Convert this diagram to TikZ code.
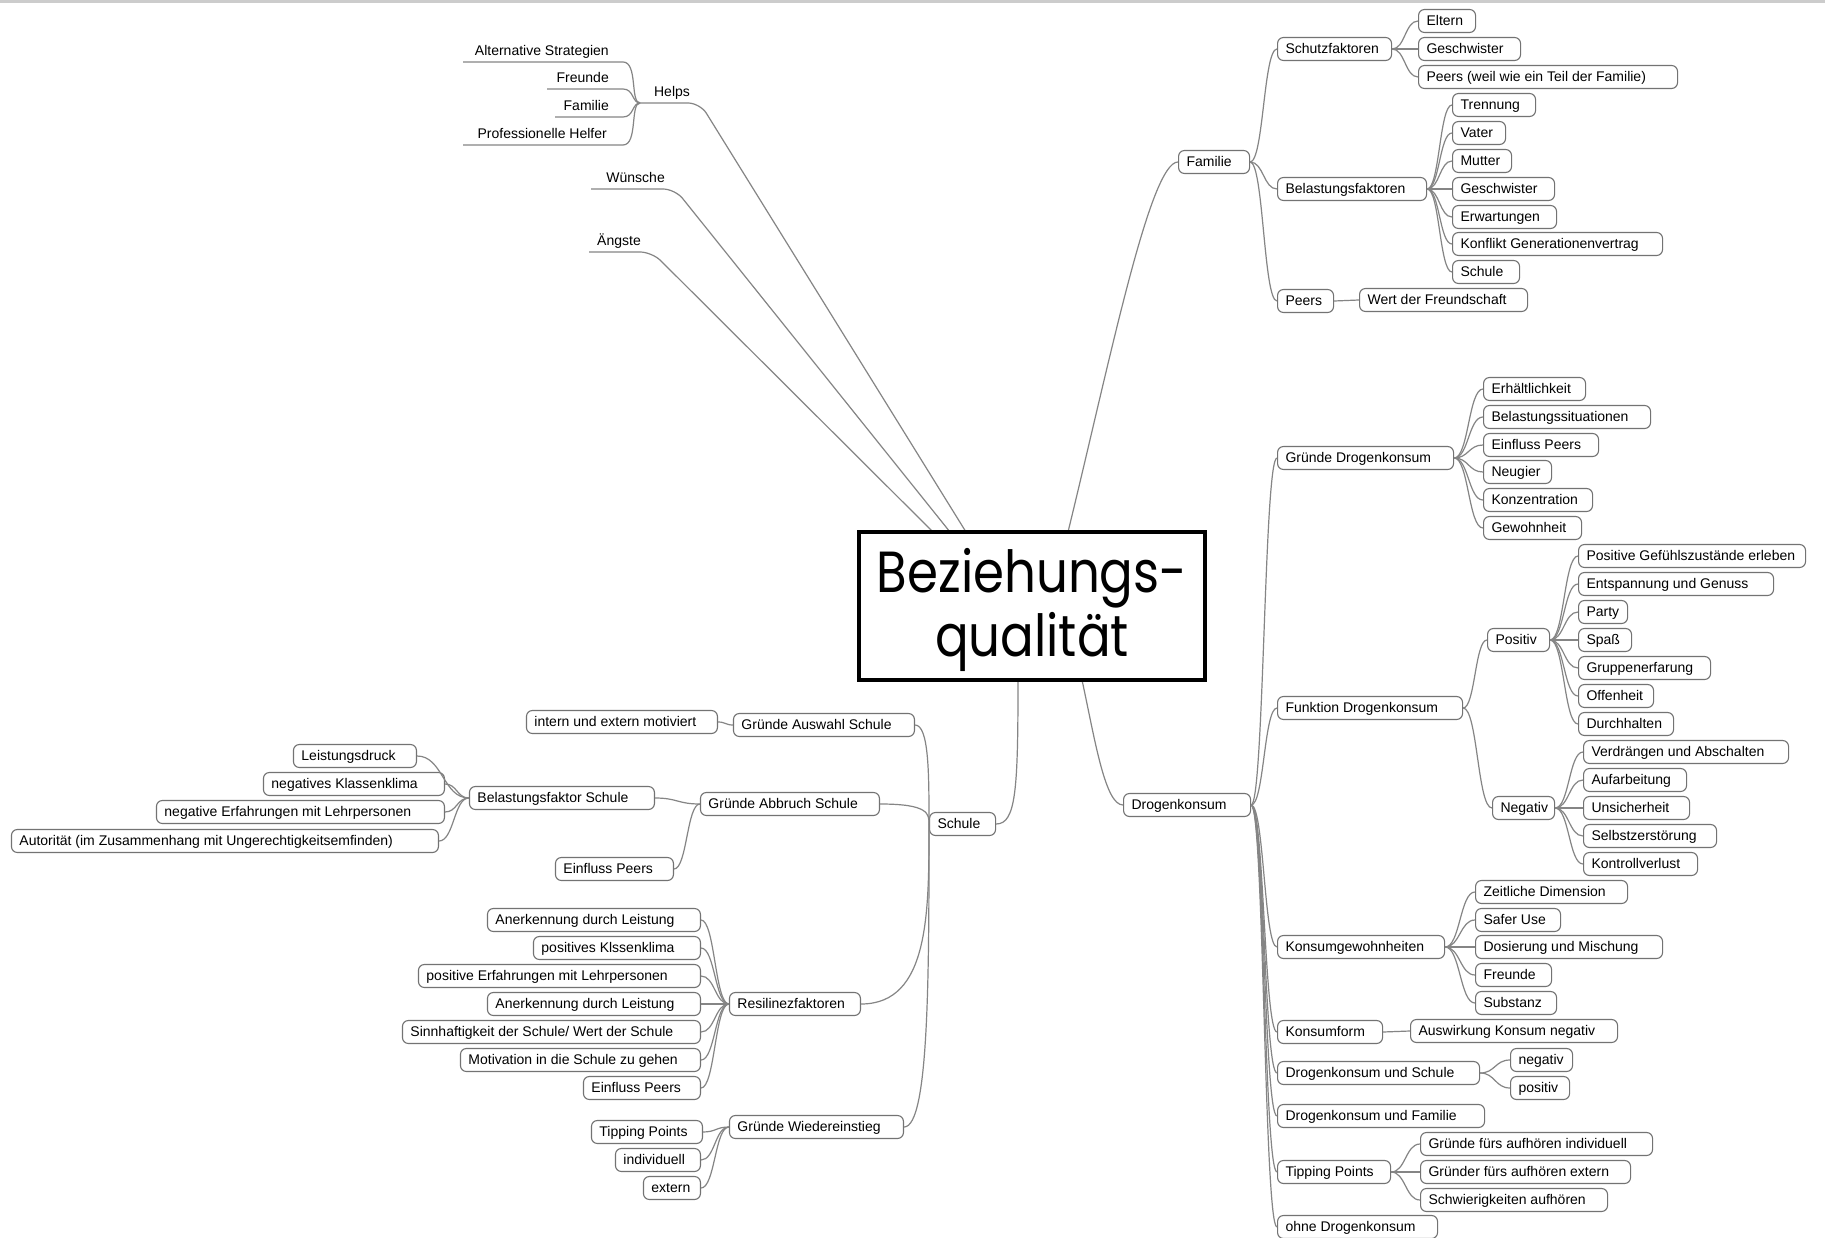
\documentclass[tikz,border=0pt]{standalone}
\usepackage{graphicx}
\usepackage{fontspec}
\setmainfont{Liberation Sans}
\newfontfamily\comicfont{Poppins}
\usetikzlibrary{calc}
\newcommand\fsz{\fontsize{14}{16}\selectfont}
\tikzset{
  nd/.style={draw=black!55, line width=1.1pt, rounded corners=6pt, minimum height=23pt,
             inner ysep=0pt, inner xsep=8pt, text height=10.5pt, text depth=2pt, font=\fsz, fill=white},
  ln/.style={draw=black!48, line width=1.2pt},
  lbl/.style={font=\fsz, inner sep=0pt},
  centre/.style={draw=black, line width=4pt, minimum width=346pt, minimum height=148pt,
             inner sep=0pt, fill=white},
}
% node to the right (anchor west): name, left, right, y, text
\newcommand\NR[5]{\node[nd,anchor=west] (#1) at (#2,#4) {\makebox[\dimexpr #3pt-#2pt-16pt\relax][l]{#5}};}
% node to the left (anchor east)
\newcommand\NL[5]{\node[nd,anchor=east] (#1) at (#3,#4) {\makebox[\dimexpr #3pt-#2pt-16pt\relax][l]{#5}};}
% S-shaped connector
\newcommand\cnS[2]{\draw[ln] let \p1=(#1),\p2=(#2) in (\p1) .. controls ({0.5*\x1+0.5*\x2},\y1) and ({0.5*\x1+0.5*\x2},\y2) .. (\p2);}
% connector arriving vertically at second point
\newcommand\cnV[2]{\draw[ln] let \p1=(#1),\p2=(#2) in (\p1) .. controls (\x2,\y1) and (\x2,{0.5*\y1+0.5*\y2}) .. (\p2);}
\begin{document}
\begin{tikzpicture}[x=1pt,y=-1pt]
\useasboundingbox (0,0) rectangle (1825,1238);
\fill[white] (0,0) rectangle (1825,1238);
\fill[black!20] (0,0) rectangle (1825,3);

% ---------- centre ----------
\coordinate (cAng) at (933,532);
\coordinate (cWun) at (950,532);
\coordinate (cHel) at (966,532);
\coordinate (cFam) at (1068,532);
\coordinate (cSch) at (1018,680);
\coordinate (cDro) at (1082,680);

% ---------- Helps group ----------
\node[lbl, anchor=base] (helps) at (672,97) {Helps};
\coordinate (hL) at (640,103); \coordinate (hR) at (700,103);
\node[lbl, anchor=base east] (alt) at (609,56) {Alternative Strategien};
\node[lbl, anchor=base east] (freu) at (609,83) {Freunde};
\node[lbl, anchor=base east] (famH) at (609,111) {Familie};
\node[lbl, anchor=base east] (prof) at (607,139) {Professionelle Helfer};
\coordinate (altL) at (463,62); \coordinate (altR) at (623,62);
\coordinate (freuL) at (547,89); \coordinate (freuR) at (623,89);
\coordinate (famL) at (555,117); \coordinate (famR) at (623,117);
\coordinate (profL) at (463,145); \coordinate (profR) at (623,145);
\draw[ln] (altL) -- (altR) .. controls (638,62) and (630,103) .. (hL);
\draw[ln] (freuL) -- (freuR) .. controls (634,89) and (632,103) .. (hL);
\draw[ln] (famL) -- (famR) .. controls (634,117) and (632,103) .. (hL);
\draw[ln] (profL) -- (profR) .. controls (638,145) and (630,103) .. (hL);
\draw[ln, rounded corners=12pt] (hL) -- (hR) -- (cHel);

\node[lbl, anchor=base east] (wun) at (665,183) {Wünsche};
\coordinate (wunL) at (591,189); \coordinate (wunR) at (675,189);
\draw[ln, rounded corners=12pt] (wunL) -- (wunR) -- (cWun);
\node[lbl, anchor=base east] (ang) at (641,246) {Ängste};
\coordinate (angL) at (589,252); \coordinate (angR) at (652,252);
\draw[ln, rounded corners=12pt] (angL) -- (angR) -- (cAng);

% ---------- Familie ----------
\NR{fam}{1178}{1249}{162}{Familie}
\NR{schutz}{1277}{1391}{49}{Schutzfaktoren}
\NR{belf}{1277}{1426}{189}{Belastungsfaktoren}
\NR{peersF}{1277}{1333}{301}{Peers}
\NR{eltern}{1418}{1475}{21}{Eltern}
\NR{gesch1}{1418}{1520}{49}{Geschwister}
\NR{peersW}{1418}{1677}{77}{Peers (weil wie ein Teil der Familie)}
\NR{trenn}{1452}{1535}{105}{Trennung}
\NR{vater}{1452}{1505}{133}{Vater}
\NR{mutter}{1452}{1511}{161}{Mutter}
\NR{gesch2}{1452}{1554}{189}{Geschwister}
\NR{erw}{1452}{1556}{217}{Erwartungen}
\NR{konfl}{1452}{1662}{244}{Konflikt Generationenvertrag}
\NR{schuleF}{1452}{1519}{272}{Schule}
\NR{wert}{1359}{1527}{300}{Wert der Freundschaft}

% ---------- Drogenkonsum ----------
\NR{drog}{1123}{1250}{805}{Drogenkonsum}
\NR{gdk}{1277}{1453}{458}{Gründe Drogenkonsum}
\NR{erh}{1483}{1585}{389}{Erhältlichkeit}
\NR{bels}{1483}{1650}{417}{Belastungssituationen}
\NR{einflD}{1483}{1598}{445}{Einfluss Peers}
\NR{neug}{1483}{1551}{472}{Neugier}
\NR{konz}{1483}{1592}{500}{Konzentration}
\NR{gew}{1483}{1581}{528}{Gewohnheit}
\NR{fdk}{1277}{1462}{708}{Funktion Drogenkonsum}
\NR{pos}{1487}{1549}{640}{Positiv}
\NR{neg}{1492}{1554}{808}{Negativ}
\NR{pa}{1578}{1805}{556}{Positive Gefühlszustände erleben}
\NR{pb}{1578}{1773}{584}{Entspannung und Genuss}
\NR{pc}{1578}{1627}{612}{Party}
\NR{pd}{1578}{1631}{640}{Spaß}
\NR{pe}{1578}{1710}{668}{Gruppenerfarung}
\NR{pf}{1578}{1653}{696}{Offenheit}
\NR{pg}{1578}{1673}{724}{Durchhalten}
\NR{na}{1583}{1788}{752}{Verdrängen und Abschalten}
\NR{nb}{1583}{1686}{780}{Aufarbeitung}
\NR{nc}{1583}{1689}{808}{Unsicherheit}
\NR{nd}{1583}{1716}{836}{Selbstzerstörung}
\NR{ne}{1583}{1697}{864}{Kontrollverlust}
\NR{kg}{1277}{1444}{947}{Konsumgewohnheiten}
\NR{ka}{1475}{1627}{892}{Zeitliche Dimension}
\NR{kb}{1475}{1560}{920}{Safer Use}
\NR{kc}{1475}{1662}{947}{Dosierung und Mischung}
\NR{kd}{1475}{1551}{975}{Freunde}
\NR{ke}{1475}{1556}{1003}{Substanz}
\NR{kf}{1277}{1382}{1032}{Konsumform}
\NR{akn}{1410}{1617}{1031}{Auswirkung Konsum negativ}
\NR{dus}{1277}{1479}{1073}{Drogenkonsum und Schule}
\NR{dusn}{1510}{1572}{1060}{negativ}
\NR{dusp}{1510}{1569}{1088}{positiv}
\NR{duf}{1277}{1484}{1116}{Drogenkonsum und Familie}
\NR{tp}{1277}{1390}{1172}{Tipping Points}
\NR{ta}{1420}{1652}{1144}{Gründe fürs aufhören individuell}
\NR{tb}{1420}{1630}{1172}{Gründer fürs aufhören extern}
\NR{tc}{1420}{1607}{1200}{Schwierigkeiten aufhören}
\NR{ohne}{1277}{1437}{1227}{ohne Drogenkonsum}

% ---------- Schule ----------
\NR{schule}{929}{995}{824}{Schule}
\NL{gas}{734}{915}{725}{Gründe Auswahl Schule}
\NL{motiv}{527}{718}{722}{intern und extern motiviert}
\NL{gabs}{701}{880}{804}{Gründe Abbruch Schule}
\NL{belS}{470}{655}{798}{Belastungsfaktor Schule}
\NL{einflA}{556}{674}{869}{Einfluss Peers}
\NL{la}{294}{417}{756}{Leistungsdruck}
\NL{lb}{264}{445}{784}{negatives Klassenklima}
\NL{lc}{157}{445}{812}{negative Erfahrungen mit Lehrpersonen}
\NL{ld}{12}{439}{841}{Autorität (im Zusammenhang mit Ungerechtigkeitsemfinden)}
\NL{res}{730}{861}{1004}{Resilinezfaktoren}
\NL{ra}{488}{701}{920}{Anerkennung durch Leistung}
\NL{rb}{534}{701}{948}{positives Klssenklima}
\NL{rc}{419}{701}{976}{positive Erfahrungen mit Lehrpersonen}
\NL{rd}{488}{701}{1004}{Anerkennung durch Leistung}
\NL{re}{403}{701}{1032}{Sinnhaftigkeit der Schule/ Wert der Schule}
\NL{rf}{461}{701}{1060}{Motivation in die Schule zu gehen}
\NL{rg}{584}{701}{1088}{Einfluss Peers}
\NL{gw}{730}{904}{1127}{Gründe Wiedereinstieg}
\NL{wa}{592}{703}{1132}{Tipping Points}
\NL{wb}{616}{701}{1160}{individuell}
\NL{wc}{644}{701}{1188}{extern}

% ---------- connectors ----------
\begin{scope}
\foreach \c in {schutz,belf,peersF} {\cnS{fam.east}{\c.west}}
\foreach \c in {eltern,gesch1,peersW} {\cnS{schutz.east}{\c.west}}
\foreach \c in {trenn,vater,mutter,gesch2,erw,konfl,schuleF} {\cnS{belf.east}{\c.west}}
\cnS{peersF.east}{wert.west}
\foreach \c in {gdk,fdk,kg,kf,dus,duf,tp,ohne} {\cnS{drog.east}{\c.west}}
\foreach \c in {erh,bels,einflD,neug,konz,gew} {\cnS{gdk.east}{\c.west}}
\foreach \c in {pos,neg} {\cnS{fdk.east}{\c.west}}
\foreach \c in {pa,pb,pc,pd,pe,pf,pg} {\cnS{pos.east}{\c.west}}
\foreach \c in {na,nb,nc,nd,ne} {\cnS{neg.east}{\c.west}}
\foreach \c in {ka,kb,kc,kd,ke} {\cnS{kg.east}{\c.west}}
\cnS{kf.east}{akn.west}
\foreach \c in {dusn,dusp} {\cnS{dus.east}{\c.west}}
\foreach \c in {ta,tb,tc} {\cnS{tp.east}{\c.west}}
\foreach \c in {gas,gabs,res,gw} {\cnV{\c.east}{schule.west}}
\cnS{motiv.east}{gas.west}
\foreach \c in {belS,einflA} {\cnS{\c.east}{gabs.west}}
\foreach \c in {la,lb,lc,ld} {\cnS{\c.east}{belS.west}}
\foreach \c in {ra,rb,rc,rd,re,rf,rg} {\cnS{\c.east}{res.west}}
\foreach \c in {wa,wb,wc} {\cnS{\c.east}{gw.west}}
\end{scope}

\draw[ln] (cFam) .. controls (1110,360) and (1150,162) .. (fam.west);
\draw[ln] (cDro) .. controls (1095,740) and (1105,805) .. (drog.west);
\draw[ln] (schule.east) .. controls (1016,824) and (1018,790) .. (cSch);

\node[centre] (C) at (1032,606) {};
\node[align=center, inner sep=0pt, font=\comicfont\fontsize{58}{64}\selectfont] (Ct) at (1032,610)
  {\scalebox{0.86}[1]{Beziehungs-}\\\scalebox{0.86}[1]{qualität}};
\end{tikzpicture}
\end{document}
